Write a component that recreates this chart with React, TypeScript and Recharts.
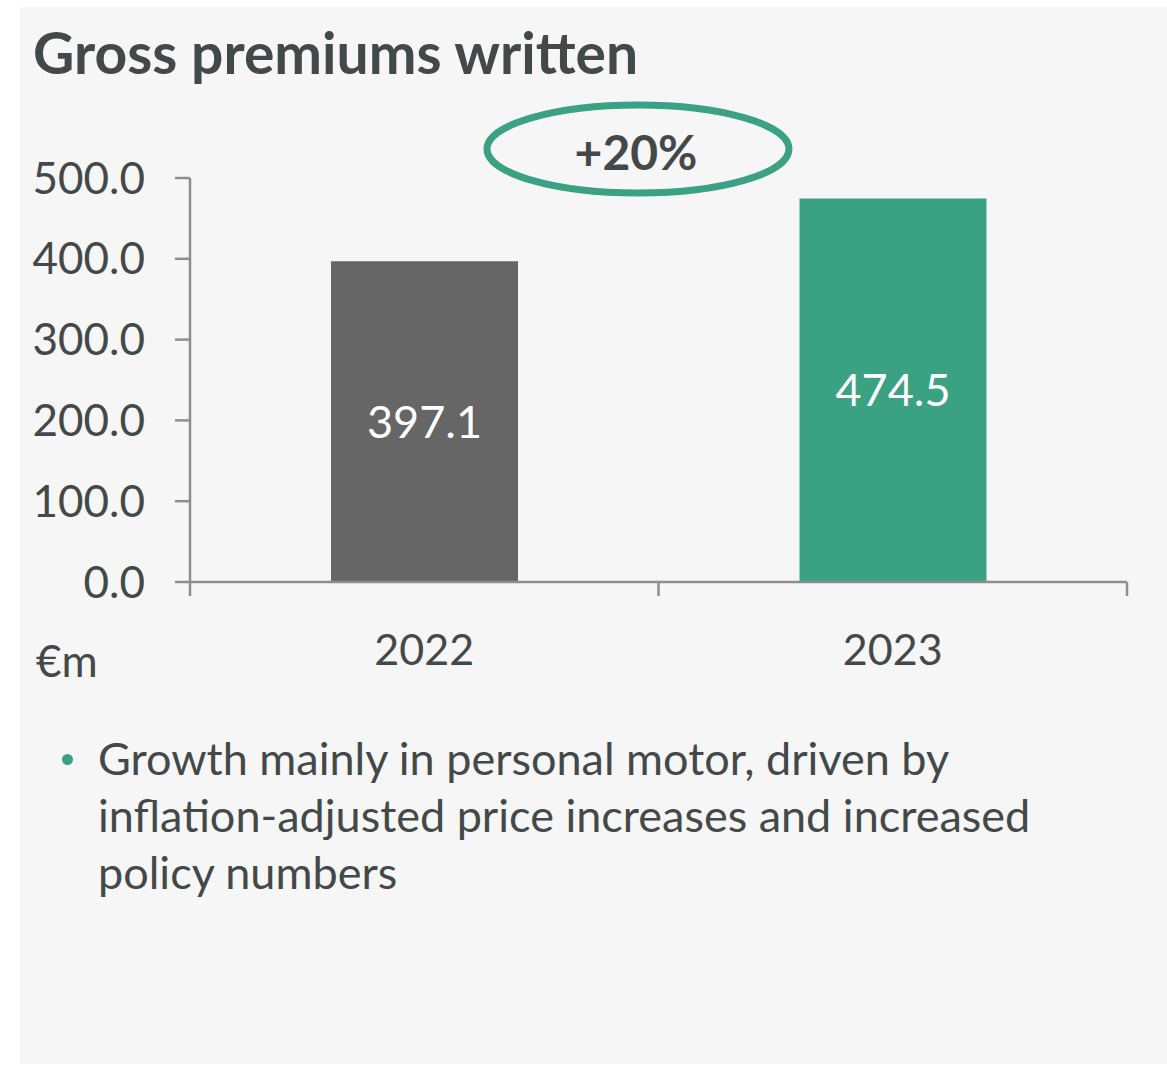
import { Bar, BarChart, Cell, LabelList, XAxis, YAxis } from "recharts";

const years: string[] = ["2022", "2023"];
const premiums: number[] = [397.1, 474.5];
const barColors: string[] = ["#666666", "#3ba183"];
const yTicks: number[] = [0, 100, 200, 300, 400, 500];

const chartData = years.map((year: string, i: number) => ({
  year,
  value: premiums[i],
}));

const FONT = "Lato, 'Open Sans', sans-serif";
const TEXT = "#434949";
const AXIS = "#8e8e8e";

const CHART_W = 1167;
const CHART_H = 700;
const X_HEIGHT = 30;
const MARGIN = { top: 178, right: 40, bottom: 700 - 582 - X_HEIGHT, left: 40 };
const Y_WIDTH = 150;
const PLOT_W = CHART_W - MARGIN.left - MARGIN.right - Y_WIDTH;

function YearTick(props: any) {
  const { x, y, payload, index } = props;
  const half = PLOT_W / years.length / 2;
  return (
    <g>
      {index === 0 && (
        <line x1={x - half} x2={x - half} y1={y} y2={y + 14} stroke={AXIS} strokeWidth={2.5} />
      )}
      <line x1={x + half} x2={x + half} y1={y} y2={y + 14} stroke={AXIS} strokeWidth={2.5} />
      <text
        x={x}
        y={y + 66}
        textAnchor="middle"
        dominantBaseline="central"
        fill={TEXT}
        fontSize={43}
        fontFamily={FONT}
      >
        {payload.value}
      </text>
    </g>
  );
}

export default function App() {
  return (
    <div
      style={{
        position: "absolute",
        left: 0,
        top: 0,
        width: 1167,
        height: 1066,
        background: "#ffffff",
        fontFamily: FONT,
      }}
    >
      <div
        style={{
          position: "absolute",
          left: 20,
          top: 7,
          width: 1147,
          height: 1057,
          background: "#f6f6f6",
        }}
      />

      <div
        style={{
          position: "absolute",
          left: 33,
          top: 17,
          fontSize: 57,
          lineHeight: "70px",
          fontWeight: 700,
          color: TEXT,
          whiteSpace: "nowrap",
        }}
      >
        Gross premiums written
      </div>

      <div style={{ position: "absolute", left: 0, top: 0 }}>
        <BarChart width={CHART_W} height={CHART_H} data={chartData} margin={MARGIN}>
          <XAxis
            dataKey="year"
            height={X_HEIGHT}
            axisLine={{ stroke: AXIS, strokeWidth: 2.5 }}
            tickLine={false}
            tickSize={0}
            tickMargin={0}
            tick={<YearTick />}
            interval={0}
          />
          <YAxis
            width={Y_WIDTH}
            domain={[0, 500]}
            ticks={yTicks}
            interval={0}
            axisLine={{ stroke: AXIS, strokeWidth: 2.5 }}
            tickLine={{ stroke: AXIS, strokeWidth: 2.5 }}
            tickSize={15}
            tickMargin={30}
            tickFormatter={(v: number) => v.toFixed(1)}
            tick={{ fill: TEXT, fontSize: 44, fontFamily: FONT }}
          />
          <Bar dataKey="value" barSize={187} isAnimationActive={false}>
            {chartData.map((d, i) => (
              <Cell key={d.year} fill={barColors[i]} />
            ))}
            <LabelList
              dataKey="value"
              position="center"
              fill="#ffffff"
              fontSize={45}
              fontFamily={FONT}
              formatter={(v: any) => Number(v).toFixed(1)}
            />
          </Bar>
        </BarChart>
      </div>

      <svg
        width={CHART_W}
        height={260}
        style={{ position: "absolute", left: 0, top: 0, pointerEvents: "none" }}
      >
        <ellipse cx={638} cy={149} rx={151} ry={44} fill="none" stroke="#3ba183" strokeWidth={7} />
        <text
          x={636}
          y={151}
          textAnchor="middle"
          dominantBaseline="central"
          fill={TEXT}
          fontSize={48}
          fontWeight={700}
          fontFamily={FONT}
        >
          +20%
        </text>
      </svg>

      <div
        style={{
          position: "absolute",
          left: 36,
          top: 632,
          fontSize: 44,
          lineHeight: "56px",
          color: TEXT,
        }}
      >
        €m
      </div>

      <div
        style={{
          position: "absolute",
          left: 98,
          top: 730,
          width: 1060,
          fontSize: 45,
          lineHeight: "57px",
          color: TEXT,
          whiteSpace: "nowrap",
        }}
      >
        <span
          style={{
            position: "absolute",
            left: -36,
            top: 24,
            width: 11,
            height: 11,
            borderRadius: "50%",
            background: "#3ba183",
          }}
        />
        Growth mainly in personal motor, driven by
        <br />
        inflation-adjusted price increases and increased
        <br />
        policy numbers
      </div>
    </div>
  );
}
